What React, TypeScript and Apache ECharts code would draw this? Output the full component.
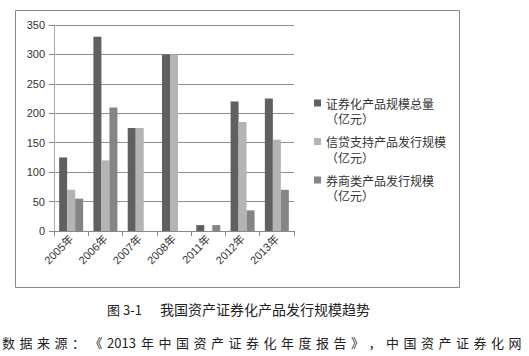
import React, { useEffect, useRef } from "react";
import * as echarts from "echarts";

const categories = ["2005年", "2006年", "2007年", "2008年", "2011年", "2012年", "2013年"];
const seriesNames = [
  "证券化产品规模总量\n（亿元）",
  "信贷支持产品发行规模\n（亿元）",
  "券商类产品发行规模\n（亿元）",
];
const totalScale = [125, 330, 175, 300, 10, 220, 225];
const creditScale = [70, 120, 175, 300, 0, 185, 155];
const brokerScale = [55, 210, 0, 0, 10, 35, 70];
const colors = ["#606060", "#b4b4b4", "#858585"];
const captionLabel = "图 3-1";
const captionTitle = "我国资产证券化产品发行规模趋势";
const sourceChars = ["数", "据", "来", "源", "：", "《", "2013", "年", "中", "国", "资", "产", "证", "券", "化", "年", "度", "报", "告", "》", "，", "中", "国", "资", "产", "证", "券", "化", "网"];

const FONT = "'Liberation Sans', 'Noto Sans CJK SC', sans-serif";
const CJK = "'Noto Sans CJK SC', sans-serif";

export default function App() {
  const ref = useRef<HTMLDivElement>(null);
  useEffect(() => {
    if (!ref.current) return;
    const chart = echarts.init(ref.current, null, { renderer: "svg" });
    const srcElems: any[] = [];
    let x = 2;
    sourceChars.forEach((c) => {
      const isNum = /^[0-9]+$/.test(c);
      srcElems.push({
        type: "text",
        x,
        y: 342,
        style: {
          text: c,
          fill: "#222",
          font: `13px ${CJK}`,
          verticalAlign: "middle",
          align: "left",
        },
      });
      x += isNum ? 34 : 17.5;
    });
    const unitElems = seriesNames.map((n, i) => ({
      type: "text",
      x: 326,
      y: 118.5 + i * 38.5,
      style: {
        text: n.split("\n")[1],
        fill: "#333",
        font: `12px ${CJK}`,
        verticalAlign: "middle",
      },
    }));
    const dataArr = [totalScale, creditScale, brokerScale];
    chart.setOption({
      animation: false,
      backgroundColor: "#ffffff",
      grid: { left: 54, right: 235, top: 25, bottom: 125 },
      legend: {
        orient: "vertical",
        left: 314,
        top: 96,
        itemWidth: 7,
        itemHeight: 7,
        itemGap: 24.5,
        icon: "rect",
        padding: 0,
        formatter: (n: string) => n.split("\n")[0],
        textStyle: { fontSize: 12, color: "#333", fontFamily: CJK, lineHeight: 14 },
        data: seriesNames,
      },
      xAxis: {
        type: "category",
        data: categories,
        axisLine: { lineStyle: { color: "#888" } },
        axisTick: { show: true, length: 5, lineStyle: { color: "#888" } },
        axisLabel: { rotate: 45, fontSize: 11, color: "#333", fontFamily: FONT, margin: 6 },
      },
      yAxis: {
        type: "value",
        min: 0,
        max: 350,
        interval: 50,
        axisLine: { show: true, lineStyle: { color: "#aaa" } },
        axisTick: { show: true, length: 5, lineStyle: { color: "#888" } },
        axisLabel: { fontSize: 11, color: "#333", fontFamily: FONT, margin: 9 },
        splitLine: { lineStyle: { color: "#909090" } },
      },
      series: seriesNames.map((n, i) => ({
        name: n,
        type: "bar",
        data: dataArr[i],
        itemStyle: { color: colors[i] },
        barGap: "0%",
        barCategoryGap: "30%",
      })),
      graphic: [
        {
          type: "rect",
          shape: { x: 15.5, y: 10.5, width: 444, height: 277 },
          style: { fill: "none", stroke: "#888", lineWidth: 1 },
          silent: true,
        },
        {
          type: "text",
          x: 107,
          y: 309,
          style: { text: captionLabel, fill: "#222", font: `13px ${CJK}`, verticalAlign: "middle" },
        },
        {
          type: "text",
          x: 160,
          y: 309,
          style: { text: captionTitle, fill: "#222", font: `14px ${CJK}`, verticalAlign: "middle" },
        },
        ...unitElems,
        ...srcElems,
      ],
    });
    return () => chart.dispose();
  }, []);
  return (
    <div
      ref={ref}
      style={{ position: "absolute", left: 0, top: 0, width: 529, height: 356 }}
    />
  );
}
